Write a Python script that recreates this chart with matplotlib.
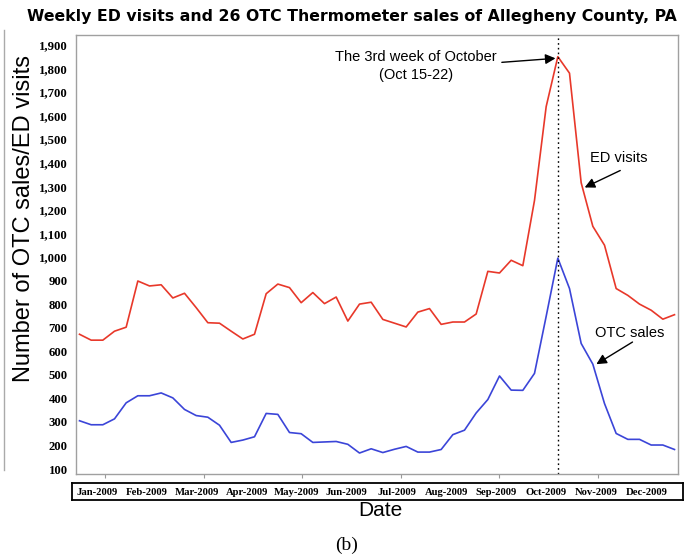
import matplotlib
matplotlib.use("Agg")
import matplotlib.pyplot as plt
import numpy as np

# weekly values (52 weeks of 2009)
edVisits = [672, 647, 647, 685, 702, 898, 877, 882, 826, 846,
            785, 721, 719, 685, 652, 672, 844, 885, 870, 806,
            849, 802, 830, 728, 800, 808, 735, 719, 703, 766,
            781, 714, 724, 724, 758, 939, 932, 986, 963, 1240,
            1638, 1850, 1780, 1315, 1130, 1050, 866, 837, 800, 774,
            736, 755]
otcSales = [305, 288, 288, 313, 381, 411, 411, 423, 402, 353,
            327, 320, 286, 213, 223, 237, 336, 332, 255, 250,
            213, 215, 217, 205, 168, 186, 170, 184, 196, 172,
            172, 183, 246, 265, 338, 395, 495, 435, 434, 506,
            748, 995, 866, 633, 545, 378, 251, 226, 226, 202,
            202, 183]
monthLabels = ["Jan-2009", "Feb-2009", "Mar-2009", "Apr-2009", "May-2009", "Jun-2009",
               "Jul-2009", "Aug-2009", "Sep-2009", "Oct-2009", "Nov-2009", "Dec-2009"]
yTicks = list(range(100, 2000, 100))
peakWeek = 41

weeks = np.arange(len(edVisits))

fig = plt.figure(figsize=(6.9, 5.59), dpi=100)
ax = fig.add_axes([76/690, 1-474/559, 602/690, 439/559])

ax.plot(weeks, edVisits, color="#e8382a", lw=1.2)
ax.plot(weeks, otcSales, color="#3b45d8", lw=1.2)
ax.axvline(peakWeek, color="black", lw=1.0, ls=(0, (1.2, 2.2)))

ax.set_xlim(-0.3, 51.3)
ax.set_ylim(79, 1942)
ax.set_yticks(yTicks)
ax.set_yticklabels(["{:,}".format(v) for v in yTicks],
                   fontfamily="Liberation Serif", fontweight="bold", fontsize=9.2)
ax.tick_params(axis="y", length=0, pad=6)
ax.set_xticks(np.arange(2.2, 51, 8.44))
ax.set_xticklabels([])
ax.tick_params(axis="x", length=3, color="#999999", direction="out")
for s in ax.spines.values():
    s.set_color("#a0a0a0")
    s.set_linewidth(1.0)

# annotations
arrow = dict(arrowstyle="-|>", color="black", lw=1.0, mutation_scale=15, shrinkA=0, shrinkB=0)
ax.text(28.85, 1812, "The 3rd week of October\n(Oct 15-22)", ha="center", va="center",
        fontfamily="Liberation Sans", fontsize=10.5, linespacing=1.35)
ax.annotate("", xy=(40.8, 1843), xytext=(36.2, 1826), arrowprops=arrow)
ax.text(46.2, 1422, "ED visits", ha="center", va="center",
        fontfamily="Liberation Sans", fontsize=10.5)
ax.annotate("", xy=(43.3, 1295), xytext=(46.35, 1367), arrowprops=arrow)
ax.text(47.2, 676, "OTC sales", ha="center", va="center",
        fontfamily="Liberation Sans", fontsize=10.5)
ax.annotate("", xy=(44.3, 545), xytext=(47.4, 639), arrowprops=arrow)

# month labels box under the plot
box = fig.add_axes([72/690, 1-500/559, 611/690, 17/559])
box.set_xlim(0, 1)
box.set_ylim(0, 1)
box.set_xticks([])
box.set_yticks([])
for s in box.spines.values():
    s.set_color("black")
    s.set_linewidth(1.3)
for xPos, lab in zip(np.linspace(0.041, 0.940, len(monthLabels)), monthLabels):
    box.text(xPos, 0.45, lab, ha="center", va="center",
             fontfamily="Liberation Serif", fontweight="bold", fontsize=7.7)

fig.text(352/690, 1-16/559, "Weekly ED visits and 26 OTC Thermometer sales of Allegheny County, PA",
         ha="center", va="center", fontfamily="DejaVu Sans", fontweight="bold", fontsize=11.3)
fig.text(24.5/690, 1-218/559, "Number of OTC sales/ED visits", rotation=90,
         ha="center", va="center", fontfamily="Liberation Sans", fontsize=17)
fig.text(380/690, 1-511/559, "Date", ha="center", va="center",
         fontfamily="Liberation Sans", fontsize=15)
fig.text(347/690, 1-545/559, "(b)", ha="center", va="center",
         fontfamily="Liberation Serif", fontsize=14)

# edge of the neighbouring panel on the left
fig.add_artist(plt.Line2D([4/690, 4/690], [1-470/559, 1-30/559], color="#aaaaaa", lw=1.0))

fig.savefig("out.png", dpi=100)
